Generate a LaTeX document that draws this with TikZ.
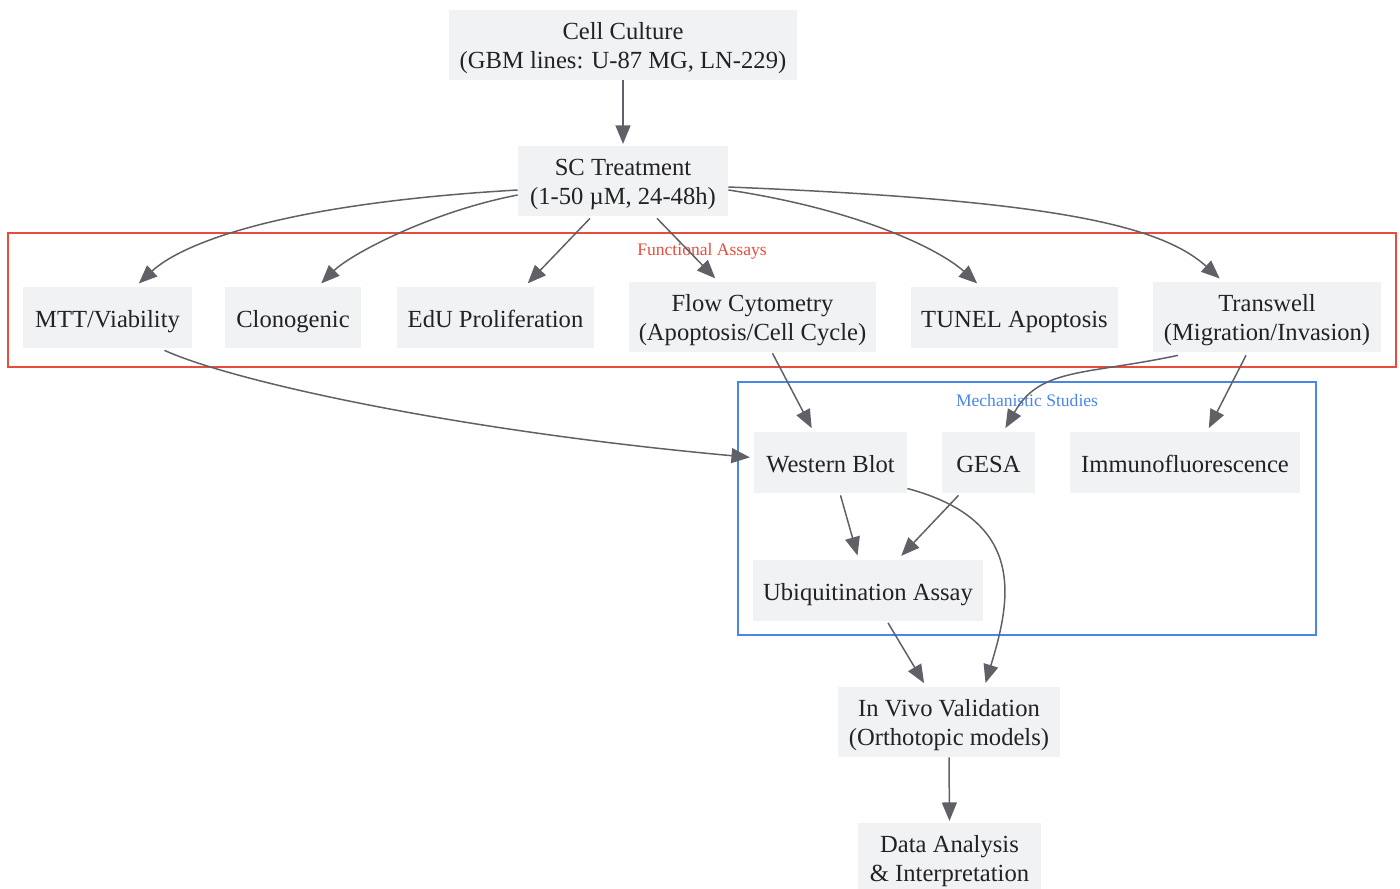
\documentclass[tikz,border=0pt]{standalone}
\usepackage{fontspec}
\setmainfont{Liberation Serif}
\usetikzlibrary{arrows.meta,calc}
\definecolor{boxfill}{HTML}{F1F2F4}
\definecolor{edgegray}{HTML}{5F6166}
\definecolor{txtgray}{HTML}{222222}
\definecolor{assayred}{HTML}{E74C3C}
\definecolor{mechblue}{HTML}{4A86E8}
\newlength\unitpx
\setlength\unitpx{0.02cm}

\begin{document}
\begin{tikzpicture}[x=0.02cm, y=-0.02cm,
  box/.style={fill=boxfill, text=txtgray, align=center, inner sep=0pt,
    font=\fontsize{14}{16.5}\selectfont, minimum height=61\unitpx,
    text height=11.4pt, text depth=0pt},
  twoline/.style={box, minimum height=70\unitpx, text height=27pt, text depth=0pt},
  flow/.style={draw=edgegray, line width=0.85pt, shorten >=1pt,
    -{Triangle[length=10.5pt, width=8.5pt]}},
  frame/.style={line width=0.85pt},
  framelabel/.style={font=\fontsize{10}{12}\selectfont}]
\useasboundingbox (0,0) rectangle (1400,889);

\draw[frame, draw=assayred] (8,233) rectangle (1396,367);
\node[framelabel, text=assayred] (falabel) at (702,251.5) {Functional Assays};
\draw[frame, draw=mechblue] (738,382) rectangle (1316,635);
\node[framelabel, text=mechblue] (mslabel) at (1027,400.5) {Mechanistic Studies};

\node[twoline, minimum width=348\unitpx] (cc) at (623,44.5) {Cell Culture\\(GBM lines: U-87 MG, LN-229)};
\node[twoline, minimum width=210\unitpx] (sc) at (623,181) {SC Treatment\\(1-50 µM, 24-48h)};

\node[box, minimum width=169\unitpx] (mtt) at (107.5,317.5) {MTT/Viability};
\node[box, minimum width=136\unitpx] (clono) at (293,317.5) {Clonogenic};
\node[box, minimum width=197\unitpx] (edu) at (495.5,317.5) {EdU Proliferation};
\node[twoline, minimum width=247\unitpx] (facs) at (752.5,317) {Flow Cytometry\\(Apoptosis/Cell Cycle)};
\node[box, minimum width=207\unitpx] (tunel) at (1014.5,317.5) {TUNEL Apoptosis};
\node[twoline, minimum width=228\unitpx] (trans) at (1267,317) {Transwell\\(Migration/Invasion)};

\node[box, minimum width=153\unitpx] (wb) at (830.5,462.5) {Western Blot};
\node[box, minimum width=93\unitpx] (gesa) at (988.5,462.5) {GESA};
\node[box, minimum width=230\unitpx] (immuno) at (1185,462.5) {Immunofluorescence};
\node[box, minimum width=230\unitpx] (ubiq) at (868,590) {Ubiquitination Assay};

\node[twoline, minimum width=222\unitpx] (invivo) at (949,722) {In Vivo Validation\\(Orthotopic models)};
\node[twoline, minimum width=183\unitpx] (data) at (949.5,858) {Data Analysis\\\& Interpretation};

\draw[flow] (cc.south) -- (sc.north);
\draw[flow] ($(sc.west)+(0,9)$) .. controls +(-258,15) and +(37.5,-35) .. ($(mtt.north)+(30,-2)$);
\draw[flow] ($(sc.west)+(0,14)$) .. controls +(-88,17) and +(30,-30) .. ($(clono.north)+(27,-2)$);
\draw[flow] ($(sc.south)+(-33,2)$) -- ($(edu.north)+(31,-2)$);
\draw[flow] ($(sc.south)+(34,2)$) -- ($(facs.north)+(-36,-2)$);
\draw[flow] ($(sc.east)+(0,9)$) .. controls +(132,20) and +(-38.5,-35) .. ($(tunel.north)+(-36,-2)$);
\draw[flow] ($(sc.east)+(0,6)$) .. controls +(322,13) and +(-61,-55) .. ($(trans.north)+(-46,-2)$);

\draw[flow] ($(mtt.south)+(57,2)$) .. controls +(65.5,30) and +(-301.5,-27.5) .. ($(wb.west)+(-2,-5)$);
\draw[flow] ($(facs.south)+(20,1)$) -- ($(wb.north)+(-18,-2)$);
\draw[flow] ($(trans.south)+(-89,3)$) .. controls +(-95,20) and +(35.5,-62) .. ($(gesa.north)+(16,-2)$);
\draw[flow] ($(trans.south)+(-21,3)$) -- ($(immuno.north)+(23,-2)$);

\draw[flow] ($(wb.south)+(10,2)$) -- ($(ubiq.north)+(-10,-2)$);
\draw[flow] ($(gesa.south)+(-30,2)$) -- ($(ubiq.north)+(32,-2)$);
\draw[flow] ($(wb.east)+(0,26)$) .. controls +(120,32) and +(26,-85) .. ($(invivo.north)+(36,-2)$);
\draw[flow] ($(ubiq.south)+(20,2)$) -- ($(invivo.north)+(-24,-2)$);
\draw[flow] (invivo.south) -- (data.north);
\end{tikzpicture}
\end{document}
